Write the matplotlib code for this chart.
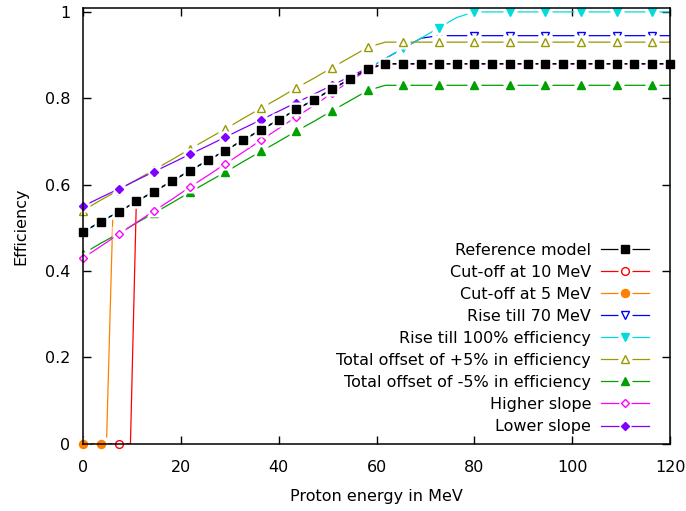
import matplotlib
matplotlib.use('Agg')
import matplotlib.pyplot as plt
from matplotlib.legend_handler import HandlerTuple
from matplotlib.ticker import FormatStrFormatter, MultipleLocator

# proton energy grid (MeV)
energy = [0.0, 3.6, 7.3, 10.9, 14.5, 18.2, 21.8, 25.5, 29.1, 32.7, 36.4, 40.0,
          43.6, 47.3, 50.9, 54.5, 58.2, 61.8, 65.5, 69.1, 72.7, 76.4, 80.0, 83.6,
          87.3, 90.9, 94.5, 98.2, 101.8, 105.5, 109.1, 112.7, 116.4, 120.0]

reference = [0.490, 0.514, 0.537, 0.561, 0.584, 0.608, 0.632, 0.656, 0.679, 0.703,
             0.727, 0.750, 0.774, 0.797, 0.821, 0.844, 0.868, 0.880, 0.880, 0.880,
             0.880, 0.880, 0.880, 0.880, 0.880, 0.880, 0.880, 0.880, 0.880, 0.880,
             0.880, 0.880, 0.880, 0.880]

# cut-off variants have one extra sample just below the threshold
energy_cut10 = energy[:3] + [9.7] + energy[3:]
cut10 = [0.0, 0.0, 0.0, 0.0] + reference[3:]
energy_cut5 = energy[:2] + [4.8, 6.1] + energy[2:]
cut5 = [0.0, 0.0, 0.0, 0.529] + reference[2:]

rise70 = [0.490, 0.514, 0.537, 0.561, 0.584, 0.608, 0.632, 0.656, 0.679, 0.703,
          0.727, 0.750, 0.774, 0.797, 0.821, 0.844, 0.868, 0.892, 0.916, 0.939,
          0.945, 0.945, 0.945, 0.945, 0.945, 0.945, 0.945, 0.945, 0.945, 0.945,
          0.945, 0.945, 0.945, 0.945]

rise100 = [0.490, 0.514, 0.537, 0.561, 0.584, 0.608, 0.632, 0.656, 0.679, 0.703,
           0.727, 0.750, 0.774, 0.797, 0.821, 0.844, 0.868, 0.892, 0.916, 0.939,
           0.963, 0.987, 1.000, 1.000, 1.000, 1.000, 1.000, 1.000, 1.000, 1.000,
           1.000, 1.000, 1.000, 1.000]

plus5 = [0.540, 0.564, 0.587, 0.611, 0.634, 0.658, 0.682, 0.706, 0.729, 0.753,
         0.777, 0.800, 0.824, 0.847, 0.871, 0.894, 0.918, 0.930, 0.930, 0.930,
         0.930, 0.930, 0.930, 0.930, 0.930, 0.930, 0.930, 0.930, 0.930, 0.930,
         0.930, 0.930, 0.930, 0.930]

minus5 = [0.440, 0.464, 0.487, 0.511, 0.534, 0.558, 0.582, 0.606, 0.629, 0.653,
          0.677, 0.700, 0.724, 0.747, 0.771, 0.794, 0.818, 0.830, 0.830, 0.830,
          0.830, 0.830, 0.830, 0.830, 0.830, 0.830, 0.830, 0.830, 0.830, 0.830,
          0.830, 0.830, 0.830, 0.830]

higher = [0.430, 0.457, 0.485, 0.512, 0.539, 0.566, 0.594, 0.621, 0.648, 0.675,
          0.703, 0.730, 0.757, 0.784, 0.812, 0.839, 0.866, 0.880, 0.880, 0.880,
          0.880, 0.880, 0.880, 0.880, 0.880, 0.880, 0.880, 0.880, 0.880, 0.880,
          0.880, 0.880, 0.880, 0.880]

lower = [0.550, 0.570, 0.590, 0.610, 0.630, 0.650, 0.670, 0.690, 0.710, 0.730,
         0.750, 0.770, 0.790, 0.810, 0.830, 0.850, 0.870, 0.880, 0.880, 0.880,
         0.880, 0.880, 0.880, 0.880, 0.880, 0.880, 0.880, 0.880, 0.880, 0.880,
         0.880, 0.880, 0.880, 0.880]

labels = ['Reference model', 'Cut-off at 10 MeV', 'Cut-off at 5 MeV',
          'Rise till 70 MeV', 'Rise till 100% efficiency',
          'Total offset of +5% in efficiency', 'Total offset of -5% in efficiency',
          'Higher slope', 'Lower slope']

plt.rcParams['font.family'] = 'DejaVu Sans'
plt.rcParams['font.size'] = 11.5

fig = plt.figure(figsize=(6.86, 5.11), dpi=100)
ax = fig.add_axes([0.121, 0.1317, 0.8557, 0.8526])


def draw(x, y, color, marker, ms, filled, marks, z):
    # line, then a white box behind each point (gnuplot style gap), then the point
    mx = [x[i] for i in marks]
    my = [y[i] for i in marks]
    ln, = ax.plot(x, y, color=color, lw=0.9, zorder=z)
    halo, = ax.plot(mx, my, ls='none', marker='s', ms=ms + 4.8, mfc='white',
                    mec='none', zorder=z + 0.1, clip_on=False)
    pt, = ax.plot(mx, my, ls='none', marker=marker, ms=ms, mew=1.0,
                  mfc=color if filled else 'white', mec=color,
                  zorder=z + 0.2, clip_on=False)
    return (ln, halo, pt)


every2 = list(range(0, len(energy), 2))
marks10 = [i for i, e in enumerate(energy_cut10) if e in energy[::2]]
marks5 = [i for i, e in enumerate(energy_cut5) if e in energy]

h_c10 = draw(energy_cut10, cut10, '#ff0000', 'o', 5.6, False, marks10, 3)
h_c5 = draw(energy_cut5, cut5, '#ff8000', 'o', 5.8, True, marks5, 4)
h_r70 = draw(energy, rise70, '#0000ff', 'v', 5.2, False, every2, 5)
h_r100 = draw(energy, rise100, '#00dcdc', 'v', 5.6, True, every2, 6)
h_p5 = draw(energy, plus5, '#999900', '^', 5.2, False, every2, 7)
h_m5 = draw(energy, minus5, '#00a000', '^', 5.6, True, every2, 8)
h_hi = draw(energy, higher, '#ff00ff', 'D', 4.0, False, every2, 9)
h_lo = draw(energy, lower, '#8000ff', 'D', 4.2, True, every2, 10)
h_ref = draw(energy, reference, '#000000', 's', 5.8, True, list(range(len(energy))), 11)

handles = [h_ref, h_c10, h_c5, h_r70, h_r100, h_p5, h_m5, h_hi, h_lo]
ax.legend(handles, labels, handler_map={tuple: HandlerTuple(ndivide=1)},
          loc='lower right', bbox_to_anchor=(0.964, 0.022), frameon=False,
          markerfirst=False, numpoints=1, handlelength=3.0, handletextpad=0.62,
          labelspacing=0.44, borderpad=0, borderaxespad=0, fontsize=11.5)

ax.set_xlim(0, 120)
ax.set_ylim(0, 1.009)
ax.xaxis.set_major_locator(MultipleLocator(20))
ax.yaxis.set_major_locator(MultipleLocator(0.2))
ax.yaxis.set_major_formatter(FormatStrFormatter('%g'))
ax.tick_params(direction='in', length=6, width=1, top=True, right=True,
               labelsize=11.5)
ax.tick_params(axis='x', pad=12)
ax.tick_params(axis='y', pad=9)
for s in ax.spines.values():
    s.set_linewidth(1.1)
    s.set_zorder(20)

ax.set_xlabel('Proton energy in MeV', fontsize=11.5, labelpad=10)
ax.set_ylabel('Efficiency', fontsize=11.5, labelpad=12)

fig.savefig('out.png', dpi=100)
